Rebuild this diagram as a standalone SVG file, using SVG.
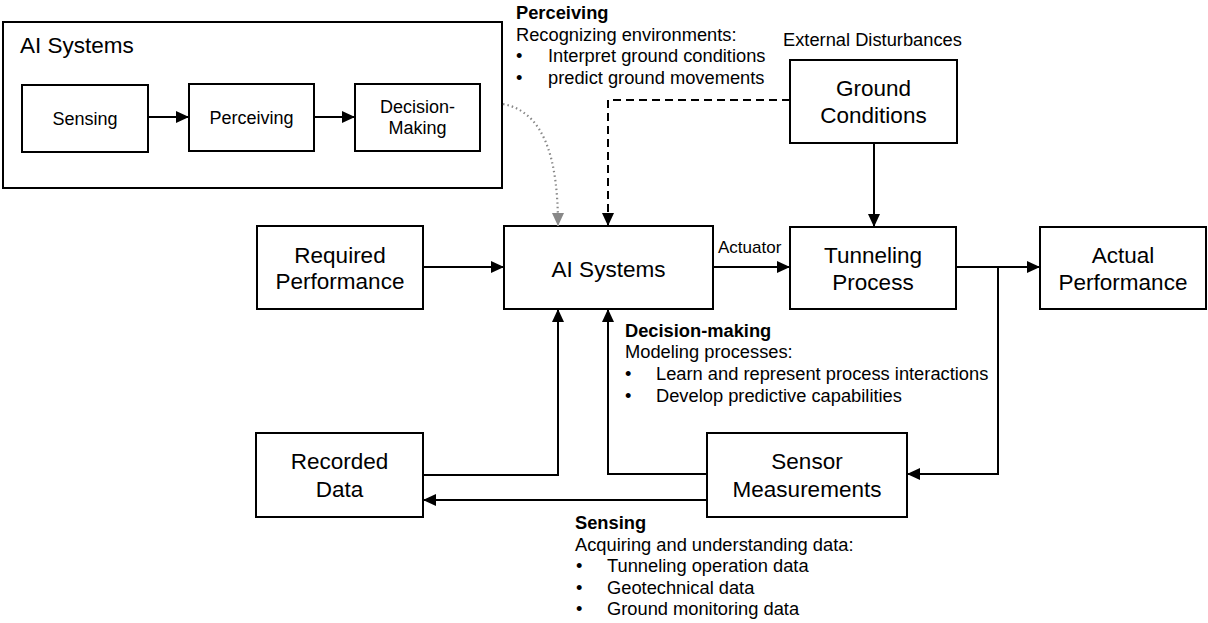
<svg xmlns="http://www.w3.org/2000/svg" width="1208" height="623" viewBox="0 0 1208 623">
<defs>
<style>
.box{fill:#fff;stroke:#000;stroke-width:2}
.lbl{font-family:"Liberation Sans",Arial,sans-serif;font-size:22.5px;fill:#000;text-anchor:middle}
.small{font-family:"Liberation Sans",Arial,sans-serif;font-size:18px;fill:#000;text-anchor:middle}
.note{font-family:"Liberation Sans",Arial,sans-serif;font-size:18.3px;fill:#000}
.b{font-weight:bold}
.ln{fill:none;stroke:#000;stroke-width:2}
</style>
<marker id="ah" markerUnits="userSpaceOnUse" markerWidth="13" markerHeight="12" refX="13" refY="6" orient="auto">
<path d="M0,0 L13,6 L0,12 z" fill="#000"/>
</marker>
<marker id="ahg" markerUnits="userSpaceOnUse" markerWidth="13" markerHeight="12" refX="13" refY="6" orient="auto">
<path d="M0,0 L13,6 L0,12 z" fill="#888"/>
</marker>
</defs>
<rect width="1208" height="623" fill="#fff"/>

<g id="ai-overview">
<rect class="box" x="3" y="22" width="499" height="166"/>
<text class="lbl" x="20" y="53" style="text-anchor:start">AI Systems</text>
</g>
<g id="sensing">
<rect class="box" x="22" y="85" width="126" height="67"/>
<text class="small" x="85" y="125">Sensing</text>
</g>
<g id="perceiving">
<rect class="box" x="189" y="84" width="125" height="67"/>
<text class="small" x="251.5" y="124">Perceiving</text>
</g>
<g id="decision">
<rect class="box" x="355" y="84" width="125" height="67"/>
<text class="small" x="417.5" y="113">Decision-</text>
<text class="small" x="417.5" y="134">Making</text>
</g>

<g id="note-perceiving">
<text class="note b" x="516" y="19">Perceiving</text>
<text class="note" x="516" y="40.5">Recognizing environments:</text>
<text class="note" x="516" y="62">•</text>
<text class="note" x="548" y="62">Interpret ground conditions</text>
<text class="note" x="516" y="83.5">•</text>
<text class="note" x="548" y="83.5">predict ground movements</text>
</g>
<g id="note-external">
<text class="note" x="783" y="46">External Disturbances</text>
</g>
<g id="ground">
<rect class="box" x="790" y="60" width="167" height="83"/>
<text class="lbl" x="873.5" y="96">Ground</text>
<text class="lbl" x="873.5" y="123">Conditions</text>
</g>
<g id="required">
<rect class="box" x="257" y="226" width="166" height="83"/>
<text class="lbl" x="340" y="263">Required</text>
<text class="lbl" x="340" y="289">Performance</text>
</g>
<g id="ai">
<rect class="box" x="504" y="226" width="209" height="83"/>
<text class="lbl" x="608.5" y="277">AI Systems</text>
</g>
<g id="tunneling">
<rect class="box" x="790" y="227" width="166" height="82"/>
<text class="lbl" x="873" y="263">Tunneling</text>
<text class="lbl" x="873" y="290">Process</text>
</g>
<g id="actual">
<rect class="box" x="1040" y="227" width="166" height="82"/>
<text class="lbl" x="1123" y="263">Actual</text>
<text class="lbl" x="1123" y="290">Performance</text>
</g>
<g id="note-decision">
<text class="note b" x="625" y="337">Decision-making</text>
<text class="note" x="625" y="358">Modeling processes:</text>
<text class="note" x="625" y="380">•</text>
<text class="note" x="656" y="380">Learn and represent process interactions</text>
<text class="note" x="625" y="401.5">•</text>
<text class="note" x="656" y="401.5">Develop predictive capabilities</text>
</g>
<g id="recorded">
<rect class="box" x="256" y="433" width="167" height="84"/>
<text class="lbl" x="339.5" y="469">Recorded</text>
<text class="lbl" x="339.5" y="497">Data</text>
</g>
<g id="sensor">
<rect class="box" x="707" y="433" width="200" height="84"/>
<text class="lbl" x="807" y="469">Sensor</text>
<text class="lbl" x="807" y="497">Measurements</text>
</g>
<g id="note-sensing">
<text class="note b" x="575" y="529">Sensing</text>
<text class="note" x="575" y="550.5">Acquiring and understanding data:</text>
<text class="note" x="576" y="572">•</text>
<text class="note" x="607" y="572">Tunneling operation data</text>
<text class="note" x="576" y="593.5">•</text>
<text class="note" x="607" y="593.5">Geotechnical data</text>
<text class="note" x="576" y="615">•</text>
<text class="note" x="607" y="615">Ground monitoring data</text>
</g>

<g id="connectors">
<line class="ln" x1="148" y1="117" x2="189" y2="117" marker-end="url(#ah)"/>
<line class="ln" x1="314" y1="117" x2="355" y2="117" marker-end="url(#ah)"/>
<path d="M503,104 C545,112 558,160 558,226" fill="none" stroke="#888" stroke-width="2.2" stroke-dasharray="1.5,3" marker-end="url(#ahg)"/>
<path class="ln" d="M790,100 L608,100 L608,226" stroke-dasharray="8,5" marker-end="url(#ah)"/>
<line class="ln" x1="874" y1="143" x2="874" y2="227" marker-end="url(#ah)"/>
<line class="ln" x1="423" y1="267" x2="504" y2="267" marker-end="url(#ah)"/>
<line class="ln" x1="713" y1="267" x2="790" y2="267" marker-end="url(#ah)"/>
<text class="note" x="718" y="253" style="font-size:17px">Actuator</text>
<line class="ln" x1="956" y1="267" x2="1040" y2="267" marker-end="url(#ah)"/>
<path class="ln" d="M998,267 L998,474 L907,474" marker-end="url(#ah)"/>
<path class="ln" d="M707,474 L608,474 L608,309" marker-end="url(#ah)"/>
<line class="ln" x1="707" y1="500" x2="423" y2="500" marker-end="url(#ah)"/>
<path class="ln" d="M423,475 L558,475 L558,309" marker-end="url(#ah)"/>
</g>
</svg>
